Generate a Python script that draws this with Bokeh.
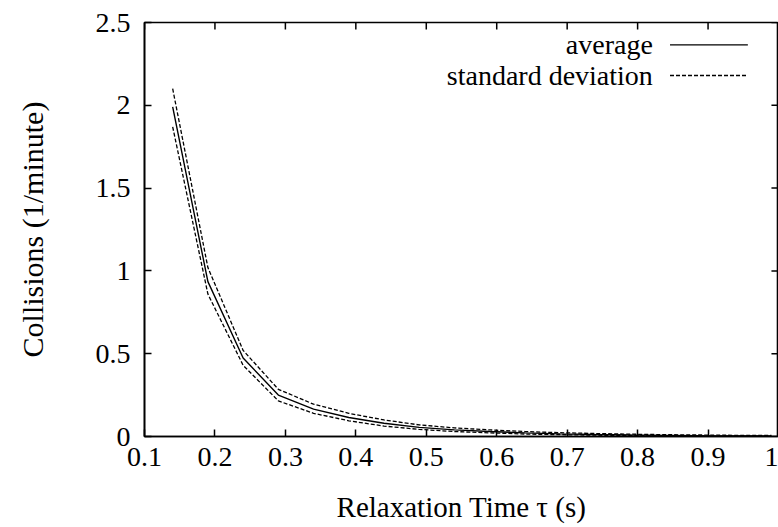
from bokeh.plotting import figure
from bokeh.models import FixedTicker, Label, Range1d, Arrow
from bokeh.embed import file_html
from bokeh.resources import INLINE

# ---- data ----
tau = [0.14, 0.19, 0.24, 0.29, 0.34, 0.39, 0.44, 0.49, 0.54, 0.59,
       0.64, 0.69, 0.74, 0.79, 0.84, 0.89, 0.94, 0.99]
average = [1.99, 0.935, 0.474, 0.25, 0.165, 0.115, 0.08, 0.055, 0.04, 0.03,
           0.022, 0.016, 0.012, 0.009, 0.007, 0.005, 0.004, 0.003]
std_upper = [2.10, 1.02, 0.52, 0.285, 0.195, 0.14, 0.10, 0.07, 0.052, 0.04,
             0.03, 0.023, 0.018, 0.014, 0.011, 0.009, 0.007, 0.006]
std_lower = [1.87, 0.86, 0.43, 0.215, 0.14, 0.095, 0.063, 0.043, 0.03, 0.022,
             0.015, 0.011, 0.008, 0.006, 0.004, 0.003, 0.002, 0.001]

x_ticks = [0.1, 0.2, 0.3, 0.4, 0.5, 0.6, 0.7, 0.8, 0.9, 1.0]
x_tick_labels = ["0.1", "0.2", "0.3", "0.4", "0.5", "0.6", "0.7", "0.8", "0.9", "1"]
y_ticks = [0, 0.5, 1.0, 1.5, 2.0, 2.5]
y_tick_labels = ["0", "0.5", "1", "1.5", "2", "2.5"]

legend_labels = ["average", "standard deviation"]

FONT = "Liberation Serif"
FS = "28px"

x0, x1 = x_ticks[0], x_ticks[-1]
y0, y1 = y_ticks[0], y_ticks[-1]

p = figure(width=778, height=525, output_backend="svg", toolbar_location=None,
           x_range=Range1d(x0, x1), y_range=Range1d(y0, y1),
           min_border_left=144, min_border_right=0, min_border_top=22,
           min_border_bottom=88)
p.background_fill_color = "white"
p.border_fill_color = "white"
p.outline_line_color = "black"
p.outline_line_width = 1.6
p.xgrid.visible = False
p.ygrid.visible = False

def style_axis(ax, ticks, labels, label_size):
    ax.ticker = FixedTicker(ticks=ticks)
    ax.major_label_overrides = {t: l for t, l in zip(ticks, labels)}
    ax.minor_tick_line_color = None
    ax.major_tick_in = 7
    ax.major_tick_out = 0
    ax.major_tick_line_color = "black"
    ax.major_tick_line_width = 1.5
    ax.axis_line_color = "black"
    ax.axis_line_width = 1.6
    ax.major_label_text_font = FONT
    ax.major_label_text_color = "black"
    ax.major_label_text_font_size = FS
    ax.axis_label_text_font = FONT
    ax.axis_label_text_font_size = label_size
    ax.axis_label_text_font_style = "normal"
    ax.axis_label_text_color = "black"

xa = p.xaxis[0]
style_axis(xa, x_ticks, x_tick_labels, "29px")
xa.major_label_standoff = 11
xa.axis_label = "Relaxation Time τ (s)"
xa.axis_label_standoff = 22

ya = p.yaxis[0]
style_axis(ya, y_ticks, y_tick_labels, "30px")
ya.major_label_standoff = 14
ya.axis_label = "Collisions (1/minute)"
ya.axis_label_standoff = 44

# mirrored inward ticks on the top and right edges (gnuplot style)
tick_dy = 0.042   # ~7 px
tick_dx = 0.010   # ~7 px
p.segment(x0=x_ticks, y0=[y1] * len(x_ticks), x1=x_ticks,
          y1=[y1 - tick_dy] * len(x_ticks), line_color="black", line_width=1.5)
p.segment(x0=[x1] * len(y_ticks), y0=y_ticks, x1=[x1 - tick_dx] * len(y_ticks),
          y1=y_ticks, line_color="black", line_width=1.5)

# ---- curves ----
p.line(tau, average, line_color="black", line_width=1.4)
p.line(tau, std_upper, line_color="black", line_width=1.3, line_dash="4 2")
p.line(tau, std_lower, line_color="black", line_width=1.3, line_dash="4 2")

# ---- gnuplot-style legend (text left of sample) ----
leg_y = [2.365, 2.18]
leg_dash = ["solid", "4 2"]
for lab, yy, dash in zip(legend_labels, leg_y, leg_dash):
    p.add_layout(Label(x=0.8216, y=yy, text=lab, text_font=FONT,
                       text_font_size=FS, text_color="black",
                       text_align="right", text_baseline="middle"))
    p.add_layout(Arrow(x_start=0.846, y_start=yy, x_end=0.9565, y_end=yy,
                       end=None, line_color="black", line_width=1.3,
                       line_dash=dash))

open("out.html", "w").write(file_html(p, INLINE))
